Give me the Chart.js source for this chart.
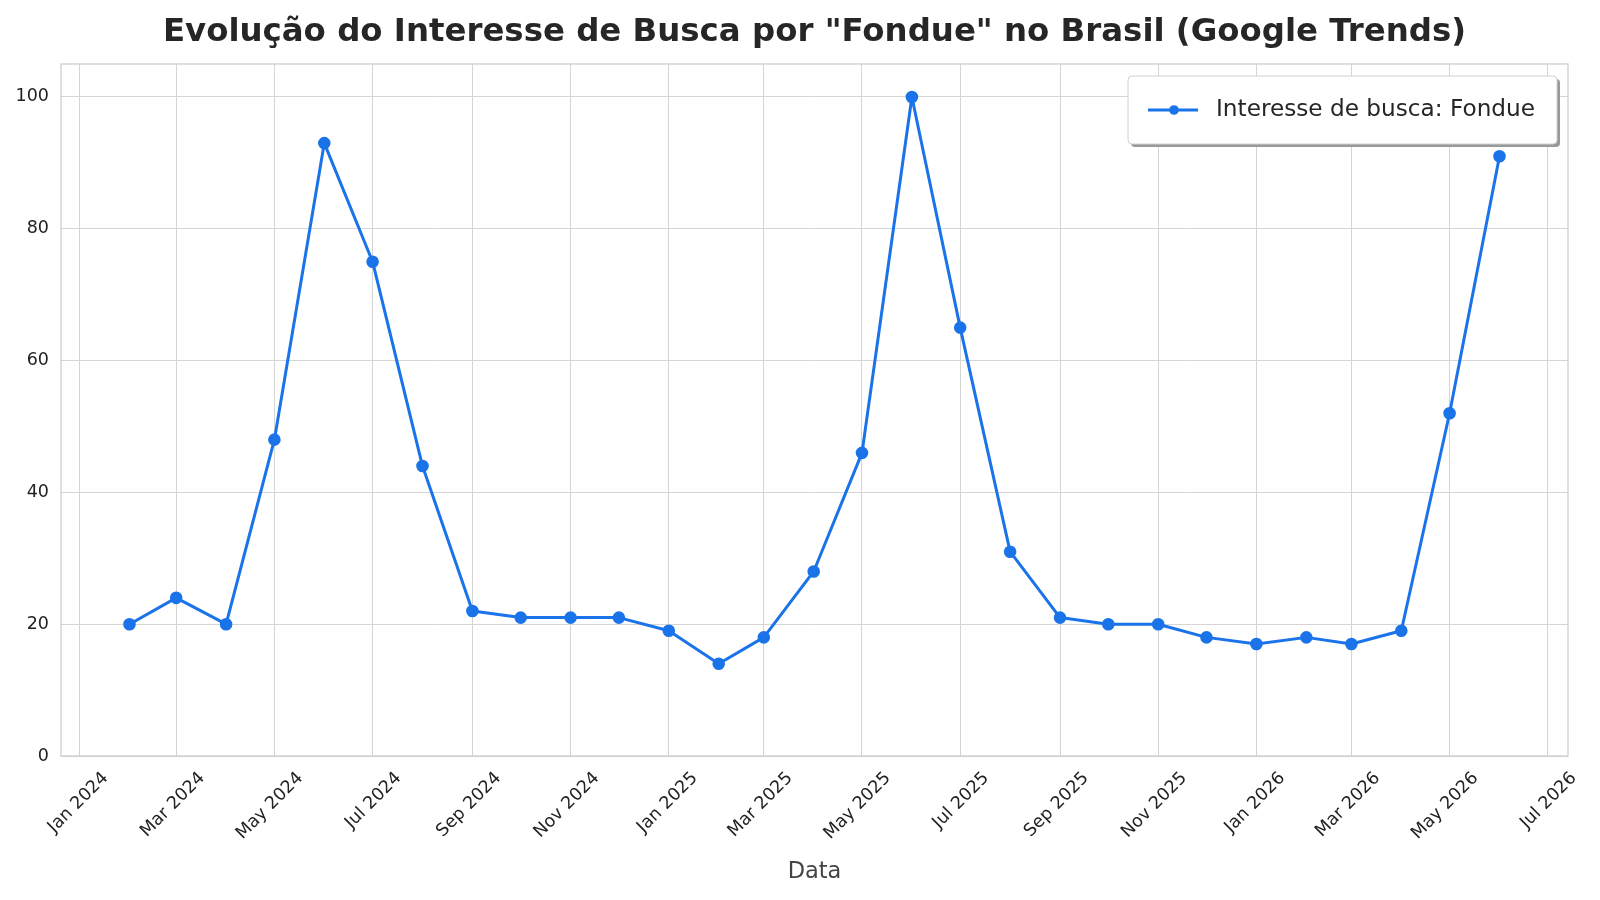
<!DOCTYPE html>
<html>
<head>
<meta charset="utf-8">
<script src="https://cdn.jsdelivr.net/npm/chart.js@4.4.1/dist/chart.umd.min.js"></script>
<style>
  html, body { margin: 0; padding: 0; background: #fff; }
  #wrap { width: 1600px; height: 900px; }
</style>
</head>
<body>
<div id="wrap"><canvas id="chart"></canvas></div>
<script>
// monthly Google Trends values, first day of each month
const months = [
  '2024-02-01', '2024-03-01', '2024-04-01', '2024-05-01', '2024-06-01', '2024-07-01',
  '2024-08-01', '2024-09-01', '2024-10-01', '2024-11-01', '2024-12-01',
  '2025-01-01', '2025-02-01', '2025-03-01', '2025-04-01', '2025-05-01', '2025-06-01',
  '2025-07-01', '2025-08-01', '2025-09-01', '2025-10-01', '2025-11-01', '2025-12-01',
  '2026-01-01', '2026-02-01', '2026-03-01', '2026-04-01', '2026-05-01', '2026-06-01',
];
const interest = [
  20, 24, 20, 48, 93, 75, 44, 22, 21, 21, 21,
  19, 14, 18, 28, 46, 100, 65, 31, 21, 20, 20, 18,
  17, 18, 17, 19, 52, 91,
];
const tickDates = [
  '2024-01-01', '2024-03-01', '2024-05-01', '2024-07-01', '2024-09-01', '2024-11-01',
  '2025-01-01', '2025-03-01', '2025-05-01', '2025-07-01', '2025-09-01', '2025-11-01',
  '2026-01-01', '2026-03-01', '2026-05-01', '2026-07-01',
];
const tickLabels = [
  'Jan 2024', 'Mar 2024', 'May 2024', 'Jul 2024', 'Sep 2024', 'Nov 2024',
  'Jan 2025', 'Mar 2025', 'May 2025', 'Jul 2025', 'Sep 2025', 'Nov 2025',
  'Jan 2026', 'Mar 2026', 'May 2026', 'Jul 2026',
];
const yTicks = [0, 20, 40, 60, 80, 100];

const TITLE = 'Evolução do Interesse de Busca por "Fondue" no Brasil (Google Trends)';
const FONT = "'DejaVu Sans', sans-serif";
const BLUE = '#1a73e8';

const day0 = Date.UTC(2024, 0, 1);
const dayOf = (s) => (Date.parse(s + 'T00:00:00Z') - day0) / 86400000;

const xs = months.map(dayOf);
const span = xs[xs.length - 1] - xs[0];

// title centred over the plot area (not the canvas), plus the box around the plot
const frame = {
  id: 'frame',
  afterDraw(chart) {
    const { ctx, chartArea: a } = chart;
    ctx.save();
    ctx.strokeStyle = '#cccccc';
    ctx.lineWidth = 1.25;
    ctx.strokeRect(a.left, a.top, a.right - a.left, a.bottom - a.top);

    ctx.fillStyle = '#262626';
    ctx.font = 'bold 32.4px ' + FONT;
    ctx.textAlign = 'center';
    ctx.textBaseline = 'alphabetic';
    ctx.fillText(TITLE, (a.left + a.right) / 2, 41);
    ctx.restore();
  },
};

// legend box with shadow, top right
const legendBox = {
  id: 'legendBox',
  afterDraw(chart) {
    const { ctx, chartArea: a } = chart;
    const ds = chart.data.datasets[0];
    const w = 429, h = 68;
    const x = a.right - 11 - w, y = a.top + 12;
    ctx.save();
    ctx.fillStyle = '#999999';
    ctx.beginPath();
    ctx.roundRect(x + 3, y + 3, w, h, 4);
    ctx.fill();
    ctx.fillStyle = '#ffffff';
    ctx.strokeStyle = '#d0d0d0';
    ctx.lineWidth = 1;
    ctx.beginPath();
    ctx.roundRect(x, y, w, h, 4);
    ctx.fill();
    ctx.stroke();

    const cy = y + h / 2;
    ctx.strokeStyle = BLUE;
    ctx.lineWidth = 3;
    ctx.beginPath();
    ctx.moveTo(x + 20, cy);
    ctx.lineTo(x + 70, cy);
    ctx.stroke();
    ctx.fillStyle = BLUE;
    ctx.beginPath();
    ctx.arc(x + 46, cy, 4.8, 0, Math.PI * 2);
    ctx.fill();

    ctx.fillStyle = '#262626';
    ctx.font = '23.2px ' + FONT;
    ctx.textBaseline = 'middle';
    ctx.textAlign = 'left';
    ctx.fillText(ds.label, x + 88, cy);
    ctx.restore();
  },
};

new Chart(document.getElementById('chart'), {
  type: 'line',
  data: {
    datasets: [{
      label: 'Interesse de busca: Fondue',
      data: xs.map((x, i) => ({ x, y: interest[i] })),
      borderColor: BLUE,
      backgroundColor: BLUE,
      borderWidth: 3,
      borderJoinStyle: 'round',
      borderCapStyle: 'round',
      pointRadius: 4.8,
      pointHoverRadius: 4.8,
      tension: 0,
    }],
  },
  options: {
    responsive: true,
    maintainAspectRatio: false,
    animation: false,
    layout: { padding: { left: 0, right: 32, top: 64, bottom: 0 } },
    plugins: {
      legend: { display: false },
      tooltip: { enabled: false },
      title: { display: false },
    },
    scales: {
      x: {
        type: 'linear',
        min: xs[0] - 0.05 * span,
        max: xs[xs.length - 1] + 0.05 * span,
        afterBuildTicks(scale) {
          scale.ticks = tickDates.map((d) => ({ value: dayOf(d) }));
        },
        afterFit(scale) {
          scale.height = 144;
          scale.paddingLeft = 0;
          scale.paddingRight = 0;
        },
        grid: { color: '#d5d5d5', lineWidth: 1, drawTicks: false },
        border: { display: false },
        ticks: {
          callback: (v, i) => tickLabels[i],
          color: '#222222',
          font: { family: FONT, size: 17.5 },
          maxRotation: 45,
          minRotation: 45,
          autoSkip: false,
          padding: 12,
          labelOffset: 26,
        },
        title: {
          display: true,
          text: 'Data',
          color: '#444444',
          font: { family: FONT, size: 22.5, lineHeight: 1.2 },
          padding: { top: 0, bottom: 14 },
        },
      },
      y: {
        min: 0,
        max: 105,
        afterBuildTicks(scale) {
          scale.ticks = yTicks.map((v) => ({ value: v }));
        },
        afterFit(scale) {
          scale.width = 61;
        },
        grid: { color: '#d5d5d5', lineWidth: 1, drawTicks: false },
        border: { display: false },
        ticks: {
          color: '#222222',
          font: { family: FONT, size: 17.5 },
          padding: 12,
        },
      },
    },
  },
  plugins: [frame, legendBox],
});
</script>
</body>
</html>
